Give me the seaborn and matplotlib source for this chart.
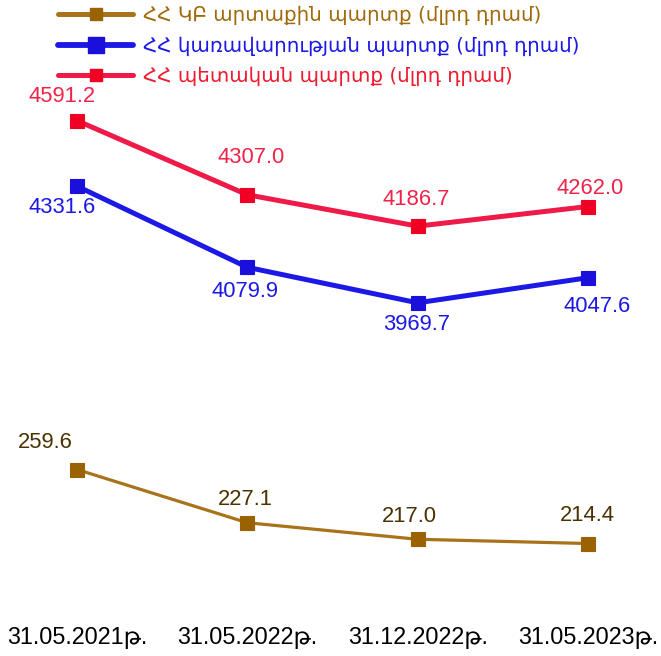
import numpy as np
import matplotlib
matplotlib.use("Agg")
import matplotlib.pyplot as plt
import seaborn as sns
from matplotlib.lines import Line2D

# Data
dates = ["31.05.2021թ.", "31.05.2022թ.", "31.12.2022թ.", "31.05.2023թ."]
cb_external = [259.6, 227.1, 217.0, 214.4]
gov_debt = [4331.6, 4079.9, 3969.7, 4047.6]
state_debt = [4591.2, 4307.0, 4186.7, 4262.0]

names = ["ՀՀ ԿԲ արտաքին պարտք (մլրդ դրամ)",
         "ՀՀ կառավարության պարտք (մլրդ դրամ)",
         "ՀՀ պետական պարտք (մլրդ դրամ)"]

sns.set_style("white")
plt.rcParams["font.family"] = ["Liberation Sans", "DejaVu Sans"]

fig = plt.figure(figsize=(6.61, 6.56), dpi=100)
ax = fig.add_axes([0, 36 / 656, 1, 1 - 36 / 656])
ax_blue = ax.twinx()
ax_red = ax.twinx()

x = np.arange(len(dates))

# series: (axis, values, line colour, marker colour, label colour, lw, ylim, label offsets in px)
series = [
    (ax, cb_external, "#A8731A", "#9A6200", "#4A3100", 2.3, (167.7, 546.3),
     [(-32, -27), (-2, -23), (-8, -23), (-1, -28)]),
    (ax_blue, gov_debt, "#1C18E6", "#1A0FDB", "#1C18E6", 3.6, (2985.9, 4909.0),
     [(-15, 21), (-2, 24), (-1, 22), (9, 29)]),
    (ax_red, state_debt, "#EE1A48", "#F00022", "#EE2448", 3.6, (2677.1, 5053.5),
     [(-15, -24), (4, -37), (-1, -27), (2, -18)]),
]

for a, vals, lc, mc, tc, lw, ylim, offs in series:
    sns.lineplot(x=x, y=vals, ax=a, color=lc, linewidth=lw, marker="s",
                 markersize=9.5, markerfacecolor=mc, markeredgecolor=mc,
                 markeredgewidth=0.8)
    a.set_ylim(*ylim)
    a.set_yticks([])
    a.set_ylabel("")
    for s in a.spines.values():
        s.set_visible(False)
    for i, v in enumerate(vals):
        a.annotate(f"{v:.1f}", (i, v),
                   xytext=(offs[i][0] * 0.72, -offs[i][1] * 0.72),
                   textcoords="offset points", ha="center", va="center",
                   fontsize=15.8, color=tc)

ax.set_xlim(-0.452, 3.429)
ax.set_xticks(x)
ax.set_xticklabels(dates, fontsize=16.8, color="black")
ax.tick_params(axis="x", length=0, pad=4)
ax.patch.set_alpha(0)
ax_blue.patch.set_alpha(0)
ax_red.patch.set_alpha(0)

handles = [
    Line2D([], [], color="#A8731A", lw=3.6, marker="s", markersize=8.5,
           markerfacecolor="#9A6200", markeredgecolor="#9A6200"),
    Line2D([], [], color="#1C18E6", lw=4.2, marker="s", markersize=11.5,
           markerfacecolor="#1A0FDB", markeredgecolor="#1A0FDB"),
    Line2D([], [], color="#EE1A48", lw=3.6, marker="s", markersize=8.5,
           markerfacecolor="#F00022", markeredgecolor="#F00022"),
]
leg = fig.legend(handles, names, loc="upper left",
                 bbox_to_anchor=(50 / 661, 1 + 2 / 656),
                 frameon=False, fontsize=14.3, handlelength=3.8,
                 handletextpad=0.5, labelspacing=0.55, borderaxespad=0)
for t, c in zip(leg.get_texts(), ["#A06A0A", "#1C18E6", "#EE1A30"]):
    t.set_color(c)
    t.set_family(["DejaVu Sans"])

fig.savefig("out.png", dpi=100)
